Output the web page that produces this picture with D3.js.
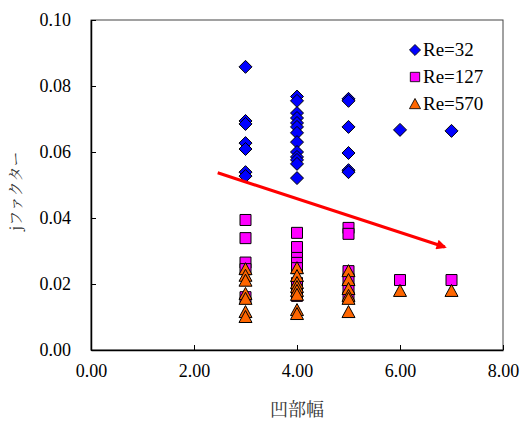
<!DOCTYPE html>
<html>
<head>
<meta charset="utf-8">
<script src="https://cdn.jsdelivr.net/npm/d3@7"></script>
<style>
  html, body { margin: 0; padding: 0; background: #fff; }
  svg { display: block; }
</style>
</head>
<body>
<svg id="chart" width="522" height="423"></svg>
<script>
// 凹部幅 vs jファクター for three Reynolds numbers
const re32X  = [3,3,3,3,3,3,3, 4,4,4,4,4,4,4,4,4,4,4,4,4, 5,5,5,5,5,5, 6, 7];
const re32Y  = [0.0858,0.0694,0.0685,0.0627,0.0609,0.0539,0.0527,
                0.0768,0.0755,0.0718,0.0703,0.0688,0.0676,0.0658,0.0630,0.0600,0.0585,0.0576,0.0564,0.0521,
                0.0761,0.0755,0.0676,0.0597,0.0545,0.0539,
                0.0667, 0.0664];

const re127X = [3,3,3,3,3, 4,4,4,4,4,4,4,4, 5,5,5,5,5,5, 6, 7];
const re127Y = [0.0394,0.0339,0.0265,0.0245,0.0160,
                0.0355,0.0312,0.0279,0.0264,0.0248,0.0203,0.0182,0.0164,
                0.0370,0.0352,0.0239,0.0215,0.0185,0.0160,
                0.0212, 0.0212];

const re570X = [3,3,3,3,3,3,3, 4,4,4,4,4,4,4,4, 5,5,5,5,5,5, 6, 7];
const re570Y = [0.0245,0.0225,0.0210,0.0170,0.0155,0.0115,0.0100,
                0.0248,0.0224,0.0203,0.0191,0.0179,0.0167,0.0121,0.0109,
                0.0239,0.0212,0.0185,0.0164,0.0155,0.0115,
                0.0179, 0.0179];

const seriesNames = ["Re=32", "Re=127", "Re=570"];
const xTicks = [0, 2, 4, 6, 8];
const yTicks = [0, 0.02, 0.04, 0.06, 0.08, 0.10];

// trend arrow (data coordinates)
const arrowX = [2.46, 6.87];
const arrowY = [0.0537, 0.0312];

const margin = { left: 91, right: 19, top: 20, bottom: 73 };
const W = 522, H = 423;
const innerW = W - margin.left - margin.right;
const innerH = H - margin.top - margin.bottom;

const SERIF = "'Liberation Serif', serif";
const MINCHO = "'Noto Serif CJK JP', 'Noto Sans CJK JP', serif";

const svg = d3.select("#chart");
const defs = svg.append("defs");
defs.append("marker")
  .attr("id", "arrowHead")
  .attr("viewBox", "0 0 10 10")
  .attr("refX", 8).attr("refY", 5)
  .attr("markerWidth", 4.2).attr("markerHeight", 3.4)
  .attr("markerUnits", "strokeWidth")
  .attr("orient", "auto")
  .append("path")
  .attr("d", "M0,0L10,5L0,10Z")
  .attr("fill", "#ff0000");

const g = svg.append("g").attr("transform", `translate(${margin.left},${margin.top})`);

const x = d3.scaleLinear().domain([0, 8]).range([0, innerW]);
const y = d3.scaleLinear().domain([0, 0.10]).range([innerH, 0]);

// frame
g.append("rect")
  .attr("x", 0).attr("y", 0)
  .attr("width", innerW).attr("height", innerH)
  .attr("fill", "none").attr("stroke", "#444").attr("stroke-width", 1);

// axes with inward ticks
const xAxis = g.append("g")
  .attr("transform", `translate(0,${innerH})`)
  .call(d3.axisBottom(x).tickValues(xTicks).tickSizeInner(-5).tickSizeOuter(0)
        .tickPadding(14).tickFormat(d3.format(".2f")));
const yAxis = g.append("g")
  .call(d3.axisLeft(y).tickValues(yTicks).tickSizeInner(-5).tickSizeOuter(0)
        .tickPadding(20).tickFormat(d3.format(".2f")));

[xAxis, yAxis].forEach(ax => {
  ax.attr("font-family", SERIF).attr("font-size", 18);
  ax.select(".domain").attr("stroke", "#000").attr("stroke-width", 1.5);
  ax.selectAll(".tick line").attr("stroke", "#000").attr("stroke-width", 1);
  ax.selectAll(".tick text")
    .attr("fill", "#000")
    .style("font-family", SERIF)
    .style("font-size", "18px");
});

// axis titles
svg.append("text")
  .attr("x", margin.left + innerW / 2)
  .attr("y", 416)
  .attr("text-anchor", "middle")
  .style("font-family", MINCHO)
  .style("font-size", "18px")
  .attr("fill", "#333")
  .text("凹部幅");

svg.append("text")
  .attr("transform", `translate(21,${margin.top + innerH / 2 + 6}) rotate(-90)`)
  .attr("text-anchor", "middle")
  .style("font-family", MINCHO)
  .style("font-size", "15px")
  .attr("fill", "#333")
  .text("jファクター");

// marker glyphs
const shapes = {
  diamond: "M0,-6.5L6.5,0L0,6.5L-6.5,0Z",
  square: "M-5.5,-5.5H5.5V5.5H-5.5Z",
  triangle: "M0,-6.5L6.5,5.5H-6.5Z"
};

const series = [
  { name: seriesNames[0], xs: re32X,  ys: re32Y,  shape: "diamond",  fill: "#0000ff" },
  { name: seriesNames[1], xs: re127X, ys: re127Y, shape: "square",   fill: "#ff00ff" },
  { name: seriesNames[2], xs: re570X, ys: re570Y, shape: "triangle", fill: "#ff6600" }
];

series.forEach(s => {
  const pts = s.xs.map((xv, i) => [xv, s.ys[i]]);
  g.append("g").selectAll("path")
    .data(pts)
    .join("path")
    .attr("d", shapes[s.shape])
    .attr("transform", d => `translate(${x(d[0])},${y(d[1])})`)
    .attr("fill", s.fill)
    .attr("stroke", "#000")
    .attr("stroke-width", 1);
});

// trend arrow
g.append("line")
  .attr("x1", x(arrowX[0])).attr("y1", y(arrowY[0]))
  .attr("x2", x(arrowX[1])).attr("y2", y(arrowY[1]))
  .attr("stroke", "#ff0000")
  .attr("stroke-width", 3)
  .attr("marker-end", "url(#arrowHead)");

// legend
const legend = svg.append("g").attr("transform", "translate(415,50)");
series.forEach((s, i) => {
  const row = legend.append("g").attr("transform", `translate(0,${i * 27})`);
  row.append("path")
    .attr("d", shapes[s.shape])
    .attr("transform", "scale(0.85)")
    .attr("fill", s.fill)
    .attr("stroke", "#000")
    .attr("stroke-width", 1);
  row.append("text")
    .attr("x", 8)
    .attr("y", 6)
    .style("font-family", SERIF)
    .style("font-size", "19px")
    .attr("fill", "#000")
    .text(s.name);
});
</script>
</body>
</html>
